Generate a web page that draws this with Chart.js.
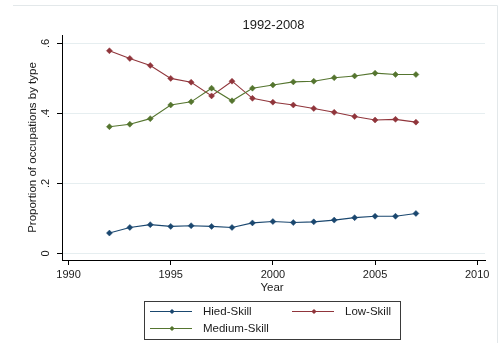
<!DOCTYPE html>
<html>
<head>
<meta charset="utf-8">
<script src="https://cdn.jsdelivr.net/npm/chart.js@4/dist/chart.umd.min.js"></script>
<style>
  html, body { margin: 0; padding: 0; background: #ffffff; }
  #wrap { width: 499px; height: 343px; position: relative; }
</style>
</head>
<body>
<div id="wrap"><canvas id="c" width="499" height="343"></canvas></div>
<script>
// Survey years
const years = [1992, 1993, 1994, 1995, 1996, 1997, 1998, 1999, 2000, 2001, 2002, 2003, 2004, 2005, 2006, 2007];

// Share of occupations by skill level
const hiedSkill   = [0.058, 0.074, 0.082, 0.077, 0.079, 0.077, 0.074, 0.087, 0.091, 0.088, 0.090, 0.095, 0.102, 0.106, 0.106, 0.114];
const lowSkill    = [0.579, 0.557, 0.537, 0.500, 0.489, 0.450, 0.492, 0.443, 0.432, 0.424, 0.414, 0.403, 0.391, 0.381, 0.383, 0.375];
const mediumSkill = [0.362, 0.369, 0.385, 0.424, 0.433, 0.472, 0.436, 0.472, 0.481, 0.490, 0.492, 0.502, 0.507, 0.515, 0.511, 0.511];

// Axis ticks
const xTicks = [1990, 1995, 2000, 2005, 2010];
const yTicks = [0, 0.2, 0.4, 0.6];
const yTickLabels = ['0', '.2', '.4', '.6'];

const chartTitle = '1992-2008';
const xTitle = 'Year';
const yTitle = 'Proportion of occupations by type';

const FONT = '"Liberation Sans", Arial, Helvetica, sans-serif';
const TEXT = '#1b1b1b';

const pts = vals => years.map((y, i) => ({ x: y, y: vals[i] }));

function series(label, vals, color, order) {
  return {
    label,
    data: pts(vals),
    borderColor: color,
    backgroundColor: color,
    borderWidth: 1.1,
    pointStyle: 'rectRot',
    pointRadius: 3,
    pointBackgroundColor: color,
    pointBorderColor: color,
    pointBorderWidth: 0.5,
    tension: 0,
    order
  };
}

// Title, rotated y labels, axis titles, boxed legend and outer frame
const decorations = {
  id: 'decorations',
  afterDraw(chart) {
    const ctx = chart.ctx;
    const ca = chart.chartArea;
    const ys = chart.scales.y;
    const cx = (ca.left + ca.right) / 2;
    ctx.save();

    // faint frame of the graph region
    ctx.strokeStyle = '#e3e8ea';
    ctx.lineWidth = 1;
    ctx.beginPath();
    ctx.moveTo(13, 5.5); ctx.lineTo(497.5, 5.5); ctx.lineTo(497.5, 343);
    ctx.stroke();

    ctx.fillStyle = TEXT;

    // title
    ctx.font = `13px ${FONT}`;
    ctx.textAlign = 'center';
    ctx.textBaseline = 'middle';
    ctx.fillText(chartTitle, cx, 25.5);

    // y tick labels, rotated
    ctx.font = `11px ${FONT}`;
    yTicks.forEach((v, i) => {
      ctx.save();
      ctx.translate(46, ys.getPixelForValue(v));
      ctx.rotate(-Math.PI / 2);
      ctx.textAlign = 'center';
      ctx.textBaseline = 'middle';
      ctx.fillText(yTickLabels[i], 0, 0);
      ctx.restore();
    });

    // y axis title
    ctx.save();
    ctx.translate(33, (ca.top + ca.bottom) / 2);
    ctx.rotate(-Math.PI / 2);
    ctx.font = `11.5px ${FONT}`;
    ctx.textAlign = 'center';
    ctx.textBaseline = 'middle';
    ctx.fillText(yTitle, 0, 0);
    ctx.restore();

    // x axis title
    ctx.font = `11.5px ${FONT}`;
    ctx.textAlign = 'center';
    ctx.textBaseline = 'middle';
    ctx.fillText(xTitle, cx - 1.5, 288);

    // legend box
    ctx.strokeStyle = '#3a3a3a';
    ctx.lineWidth = 1;
    ctx.strokeRect(144.5, 301.5, 256, 38);

    const slots = [
      { x: 150, y: 311.5 },
      { x: 292, y: 311.5 },
      { x: 150, y: 328.5 }
    ];
    chart.data.datasets.forEach((ds, i) => {
      const s = slots[i];
      ctx.strokeStyle = ds.borderColor;
      ctx.lineWidth = 1.1;
      ctx.beginPath();
      ctx.moveTo(s.x, s.y);
      ctx.lineTo(s.x + 42, s.y);
      ctx.stroke();
      // diamond marker
      const mx = s.x + 22, r = 2.6;
      ctx.fillStyle = ds.borderColor;
      ctx.beginPath();
      ctx.moveTo(mx, s.y - r); ctx.lineTo(mx + r, s.y);
      ctx.lineTo(mx, s.y + r); ctx.lineTo(mx - r, s.y);
      ctx.closePath();
      ctx.fill();
      ctx.fillStyle = TEXT;
      ctx.font = `11.5px ${FONT}`;
      ctx.textAlign = 'left';
      ctx.textBaseline = 'middle';
      ctx.fillText(ds.label, s.x + 53, s.y);
    });

    ctx.restore();
  }
};

new Chart(document.getElementById('c'), {
  type: 'line',
  data: {
    datasets: [
      series('Hied-Skill', hiedSkill, '#1a476f', 3),
      series('Low-Skill', lowSkill, '#90353b', 2),
      series('Medium-Skill', mediumSkill, '#55752f', 1)
    ]
  },
  options: {
    responsive: false,
    animation: false,
    devicePixelRatio: 1,
    layout: { padding: { top: 35, right: 14, left: 0, bottom: 0 } },
    plugins: {
      legend: { display: false },
      title: { display: false },
      tooltip: { enabled: false }
    },
    scales: {
      x: {
        type: 'linear',
        min: 1989.68,
        max: 2010.38,
        afterBuildTicks: s => { s.ticks = xTicks.map(v => ({ value: v })); },
        afterFit: s => { s.height = 83; },
        ticks: {
          autoSkip: false,
          maxRotation: 0,
          padding: 3,
          color: TEXT,
          font: { family: FONT, size: 11 },
          callback: v => String(v)
        },
        grid: {
          display: true,
          drawOnChartArea: false,
          drawTicks: true,
          tickLength: 5,
          tickColor: '#000000',
          color: '#000000'
        },
        border: { display: true, color: '#000000', width: 1 }
      },
      y: {
        type: 'linear',
        min: -0.019,
        max: 0.624,
        afterBuildTicks: s => { s.ticks = yTicks.map(v => ({ value: v })); },
        afterFit: s => { s.width = 62; },
        ticks: { display: false },
        grid: {
          display: true,
          drawOnChartArea: true,
          drawTicks: true,
          tickLength: 5,
          tickColor: '#000000',
          color: '#e6eef0',
          lineWidth: 1
        },
        border: { display: true, color: '#000000', width: 1 }
      }
    }
  },
  plugins: [decorations]
});
</script>
</body>
</html>
